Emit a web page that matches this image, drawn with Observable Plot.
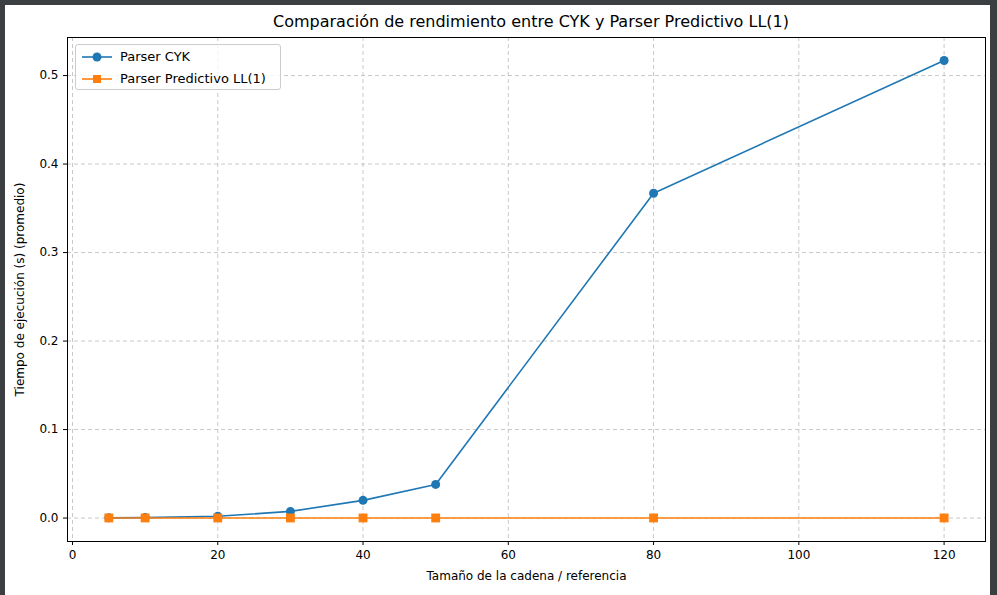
<!DOCTYPE html>
<html><head><meta charset="utf-8">
<script src="https://cdn.jsdelivr.net/npm/d3@7"></script>
<script src="https://cdn.jsdelivr.net/npm/@observablehq/plot@0.6"></script>
<style>
body{margin:0;background:#3c3f41;width:997px;height:595px;overflow:hidden;font-family:"DejaVu Sans",sans-serif}
#fig{position:absolute;left:5px;top:5px;width:985px;height:590px;background:#fff}
#title{position:absolute;left:0;width:1052px;top:7px;text-align:center;font-size:16px;color:#000}
#legend{position:absolute;left:70px;top:39px;width:204px;height:44px;border:1px solid #ccc;border-radius:3px;background:rgba(255,255,255,.8);font-size:13px}
#legend div{height:20px;line-height:20px;margin-top:2px;display:flex;align-items:center}
#legend svg{margin:0 8px 0 6px}
</style></head><body>
<div id="fig">
<div id="chart"></div>
<div id="title">Comparación de rendimiento entre CYK y Parser Predictivo LL(1)</div>
<div id="legend">
<div><svg width="30" height="12"><line x1="0" x2="30" y1="6" y2="6" stroke="#1f77b4" stroke-width="1.6"/><circle cx="15" cy="6" r="4.5" fill="#1f77b4"/></svg>Parser CYK</div>
<div><svg width="30" height="12"><line x1="0" x2="30" y1="6" y2="6" stroke="#ff7f0e" stroke-width="1.6"/><rect x="11" y="2" width="8" height="8" fill="#ff7f0e"/></svg>Parser Predictivo LL(1)</div>
</div>
</div>
<script>
const sizes = [5, 10, 20, 30, 40, 50, 80, 120];
const cyk = [0.0002, 0.0005, 0.002, 0.0075, 0.020, 0.038, 0.367, 0.517];
const ll1 = [0.0001, 0.0001, 0.0001, 0.0001, 0.0001, 0.0001, 0.0001, 0.0001];
const xTicks = [0, 20, 40, 60, 80, 100, 120];
const yTicks = [0, 0.1, 0.2, 0.3, 0.4, 0.5];

const rows = sizes.flatMap((s, i) => [
  {x: s, y: cyk[i], p: "Parser CYK"},
  {x: s, y: ll1[i], p: "Parser Predictivo LL(1)"}
]);
const a = rows.filter(d => d.p === "Parser CYK");
const b = rows.filter(d => d.p !== "Parser CYK");

const chart = Plot.plot({
  width: 985, height: 590,
  marginLeft: 62, marginRight: 5, marginTop: 32, marginBottom: 54,
  style: {fontFamily: "DejaVu Sans, sans-serif", fontSize: "12px", color: "#000", background: "transparent"},
  x: {domain: [-0.69, 125.7]},
  y: {domain: [-0.0265, 0.543]},
  marks: [
    Plot.gridX(xTicks, {stroke: "#b0b0b0", strokeOpacity: 0.7, strokeDasharray: "4,3"}),
    Plot.gridY(yTicks, {stroke: "#b0b0b0", strokeOpacity: 0.7, strokeDasharray: "4,3"}),
    Plot.axisX({ticks: xTicks, tickSize: 4, fontSize: 12,
      label: "Tamaño de la cadena / referencia", labelAnchor: "center", labelArrow: "none", labelOffset: 38}),
    Plot.axisY({ticks: yTicks, tickFormat: d3.format(".1f"), tickSize: 4, fontSize: 12,
      label: "Tiempo de ejecución (s) (promedio)", labelAnchor: "center", labelArrow: "none", labelOffset: 52}),
    Plot.frame({stroke: "#000"}),
    Plot.line(a, {x: "x", y: "y", stroke: "#1f77b4", strokeWidth: 1.6}),
    Plot.dot(a, {x: "x", y: "y", fill: "#1f77b4", r: 4.5, symbol: "circle"}),
    Plot.line(b, {x: "x", y: "y", stroke: "#ff7f0e", strokeWidth: 1.6}),
    Plot.dot(b, {x: "x", y: "y", fill: "#ff7f0e", r: 5, symbol: "square"})
  ]
});
d3.select("#chart").append(() => chart);
</script>
</body></html>
